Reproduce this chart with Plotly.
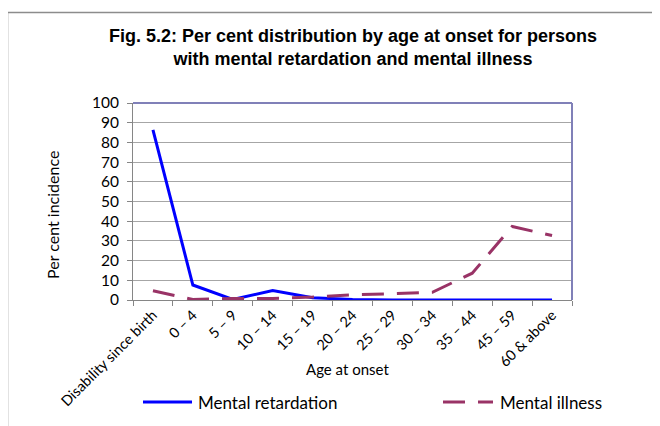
import plotly.graph_objects as go

categories = ["Disability since birth", "0 \u2013 4", "5 \u2013 9", "10 \u2013 14", "15 \u2013 19",
              "20 \u2013 24", "25 \u2013 29", "30 \u2013 34", "35 \u2013 44", "45 \u2013 59", "60 & above"]
mental_retardation = [86.3, 7.6, 0.3, 4.8, 1.2, 0.2, 0, 0, 0, 0, 0]
mental_illness = [4.7, 0.3, 0.8, 0.8, 1.5, 2.7, 3.2, 3.9, 13.6, 37.3, 32.7]
y_ticks = list(range(0, 101, 10))
series_names = ["Mental retardation", "Mental illness"]

# page offset: the html body has an 8px default margin
OFF = 8
W, H = 660, 426
pw, ph = 439, 197
L, T = 133 - OFF, 103 - OFF
R, B = W - L - pw, H - T - ph

def px_x(p):
    return (p - OFF - L) / pw

def px_y(p):
    return (H - B - (p - OFF)) / ph

font = "Lato, Calibri, sans-serif"
blue = "#0000ff"
plum = "#993366"
dash = "22px,13px"

fig = go.Figure()
fig.add_trace(go.Scatter(x=categories, y=mental_retardation, mode="lines", name=series_names[0],
                         line=dict(color=blue, width=3), showlegend=False))
fig.add_trace(go.Scatter(x=categories, y=mental_illness, mode="lines", name=series_names[1],
                         line=dict(color=plum, width=3, dash=dash), showlegend=False))

fig.update_layout(
    width=W, height=H,
    margin=dict(l=L, r=R, t=T, b=B),
    paper_bgcolor="white", plot_bgcolor="white",
    font=dict(family=font, size=13, color="black"),
    showlegend=False,
    xaxis=dict(type="category", range=[-0.5, 10.5], tickangle=-45, showgrid=False,
               showline=True, linecolor="#868686", ticks="outside", ticklen=5, tickcolor="#868686",
               tickson="boundaries", tickfont=dict(size=14.5), automargin=False),
    yaxis=dict(range=[0, 100], tickvals=y_ticks, showgrid=True, gridcolor="#a6a6a6", gridwidth=1,
               showline=True, linecolor="#868686", ticks="outside", ticklen=5, tickcolor="#868686",
               zeroline=False, tickfont=dict(size=15.5), ticklabelstandoff=5, automargin=False),
)

# title
fig.add_annotation(text="<b>Fig. 5.2: Per cent distribution by age at onset for persons<br>with mental retardation and mental illness</b>",
                   xref="paper", yref="paper", x=0.5, y=px_y(48), xanchor="center", yanchor="middle",
                   showarrow=False, font=dict(family="Liberation Sans, Arial", size=18))

# plot area frame (top and right edges)
fig.add_shape(type="line", xref="paper", yref="paper", x0=0, x1=1, y0=1, y1=1,
              line=dict(color="#8080b8", width=2))
fig.add_shape(type="line", xref="paper", yref="paper", x0=1, x1=1, y0=0, y1=1,
              line=dict(color="#8080b8", width=2))
# outer chart frame
fig.add_shape(type="rect", xref="paper", yref="paper", x0=px_x(7.5), x1=px_x(700),
              y0=px_y(460), y1=px_y(12.5), line=dict(color="#8c8c8c", width=1.5))

# axis titles
fig.add_annotation(text="Age at onset", xref="paper", yref="paper", x=px_x(347), y=px_y(369),
                   showarrow=False, font=dict(size=15), xanchor="center", yanchor="middle")
fig.add_annotation(text="Per cent incidence", xref="paper", yref="paper", x=px_x(52), y=px_y(215),
                   showarrow=False, font=dict(size=16), textangle=-90, xanchor="center", yanchor="middle")

# legend
fig.add_shape(type="line", xref="paper", yref="paper", x0=px_x(143), x1=px_x(192), y0=px_y(402), y1=px_y(402),
              line=dict(color=blue, width=3))
fig.add_annotation(text=series_names[0], xref="paper", yref="paper", x=px_x(196), y=px_y(402),
                   showarrow=False, font=dict(size=17), xanchor="left", yanchor="middle")
fig.add_shape(type="line", xref="paper", yref="paper", x0=px_x(443), x1=px_x(493), y0=px_y(402), y1=px_y(402),
              line=dict(color=plum, width=3, dash=dash))
fig.add_annotation(text=series_names[1], xref="paper", yref="paper", x=px_x(498), y=px_y(402),
                   showarrow=False, font=dict(size=17), xanchor="left", yanchor="middle")

fig.write_html("out.html")
